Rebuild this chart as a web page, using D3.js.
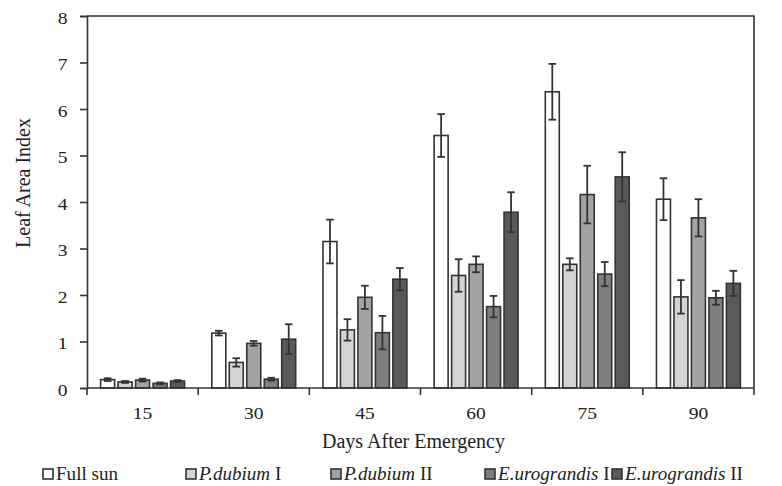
<!DOCTYPE html>
<html>
<head>
<meta charset="utf-8">
<script src="https://cdn.jsdelivr.net/npm/d3@7/dist/d3.min.js"></script>
<style>
  html, body { margin: 0; padding: 0; background: #fff; }
  svg { display: block; }
  text { font-family: "Liberation Serif", "Times New Roman", serif; fill: #222; }
</style>
</head>
<body>
<svg id="chart" width="782" height="486"></svg>
<script>
// Leaf area index by days after emergency, five light treatments
const days = ["15", "30", "45", "60", "75", "90"];
const series = ["Full sun", "P.dubium I", "P.dubium II", "E.urograndis I", "E.urograndis II"];
const fullSun      = [0.18, 1.18, 3.15, 5.43, 6.37, 4.06];
const pDubiumI     = [0.13, 0.55, 1.25, 2.42, 2.66, 1.96];
const pDubiumII    = [0.17, 0.96, 1.95, 2.66, 4.16, 3.66];
const eUrograndisI = [0.10, 0.19, 1.19, 1.75, 2.45, 1.94];
const eUrograndisII= [0.15, 1.05, 2.34, 3.78, 4.54, 2.25];
const fullSunErr      = [0.03, 0.05, 0.47, 0.46, 0.60, 0.45];
const pDubiumIErr     = [0.02, 0.09, 0.23, 0.35, 0.13, 0.36];
const pDubiumIIErr    = [0.03, 0.05, 0.25, 0.17, 0.62, 0.40];
const eUrograndisIErr = [0.02, 0.03, 0.36, 0.23, 0.26, 0.15];
const eUrograndisIIErr= [0.02, 0.32, 0.24, 0.43, 0.53, 0.27];
const yTicks = [0, 1, 2, 3, 4, 5, 6, 7, 8];

const values = [fullSun, pDubiumI, pDubiumII, eUrograndisI, eUrograndisII];
const errors = [fullSunErr, pDubiumIErr, pDubiumIIErr, eUrograndisIErr, eUrograndisIIErr];
const fills = ["#ffffff", "#d4d4d4", "#a3a3a3", "#7e7e7e", "#5a5a5a"];
const ink = "#333333";

const svg = d3.select("#chart");
const plotLeft = 87, plotRight = 754, plotTop = 16, plotBottom = 388;

const x0 = d3.scaleBand().domain(days).range([plotLeft, plotRight]).paddingInner(0).paddingOuter(0);
const x1 = d3.scaleBand().domain(series).range([0, x0.bandwidth()]).paddingInner(0.2).paddingOuter(0.78);
const y = d3.scaleLinear().domain([0, 8]).range([plotBottom, plotTop]);

const rows = [];
days.forEach((d, i) => series.forEach((s, j) => rows.push({
  day: d, s, j, v: values[j][i], e: errors[j][i]
})));

// Bars
svg.append("g").selectAll("rect").data(rows).join("rect")
  .attr("x", d => x0(d.day) + x1(d.s))
  .attr("y", d => y(d.v))
  .attr("width", x1.bandwidth())
  .attr("height", d => y(0) - y(d.v))
  .attr("fill", d => fills[d.j])
  .attr("stroke", ink)
  .attr("stroke-width", 1.6);

// Error bars
const eb = svg.append("g").attr("stroke", ink).attr("stroke-width", 1.8).attr("fill", "none");
rows.forEach(d => {
  const cx = x0(d.day) + x1(d.s) + x1.bandwidth() / 2;
  const y1 = y(d.v + d.e), y2 = y(d.v - d.e);
  eb.append("line").attr("x1", cx).attr("x2", cx).attr("y1", y1).attr("y2", y2);
  eb.append("line").attr("x1", cx - 3.8).attr("x2", cx + 3.8).attr("y1", y1).attr("y2", y1);
  eb.append("line").attr("x1", cx - 3.8).attr("x2", cx + 3.8).attr("y1", y2).attr("y2", y2);
});

// Frame (top and right edges)
svg.append("path")
  .attr("d", `M${plotLeft},${plotTop}H${plotRight}V${plotBottom}`)
  .attr("fill", "none").attr("stroke", ink).attr("stroke-width", 1.6);

// Y axis
const yAxis = svg.append("g").attr("transform", `translate(${plotLeft},0)`)
  .call(d3.axisLeft(y).tickValues(yTicks).tickFormat(d3.format("d")).tickSize(7).tickPadding(10));
yAxis.select(".domain").attr("stroke", ink).attr("stroke-width", 1.6);
yAxis.selectAll(".tick line").attr("stroke", ink).attr("stroke-width", 1.6);
yAxis.selectAll(".tick text")
  .attr("font-family", "Liberation Serif, serif").attr("font-size", 17).attr("fill", "#222")
  .attr("dy", "0.42em")
  .attr("transform", "scale(1.15,1)");

// X axis: ticks at group boundaries, labels at group centres
const xAxis = svg.append("g").attr("transform", `translate(0,${plotBottom})`);
xAxis.append("line").attr("x1", plotLeft).attr("x2", plotRight).attr("stroke", ink).attr("stroke-width", 1.6);
const bounds = days.map(d => x0(d)).concat([plotRight]);
xAxis.selectAll("line.tk").data(bounds).join("line").attr("class", "tk")
  .attr("x1", d => d).attr("x2", d => d).attr("y1", 0).attr("y2", 7)
  .attr("stroke", ink).attr("stroke-width", 1.6);
xAxis.selectAll("text").data(days).join("text")
  .attr("transform", d => `translate(${x0(d) + x0.bandwidth() / 2},31) scale(1.15,1)`)
  .attr("text-anchor", "middle").attr("font-size", 17)
  .text(d => d);

// Axis titles
svg.append("text")
  .attr("x", (plotLeft + plotRight) / 2 - 7).attr("y", 448)
  .attr("text-anchor", "middle").attr("font-size", 20)
  .text("Days After Emergency");
svg.append("text")
  .attr("transform", "translate(30,183) rotate(-90)")
  .attr("text-anchor", "middle").attr("font-size", 20)
  .text("Leaf Area Index");

// Legend
const legendX = [43, 186, 331, 485, 612];
const legendParts = [
  [["Full sun", false]],
  [["P.dubium", true], [" I", false]],
  [["P.dubium", true], [" II", false]],
  [["E.urograndis", true], [" I", false]],
  [["E.urograndis", true], [" II", false]]
];
const lg = svg.append("g");
series.forEach((s, j) => {
  const gx = legendX[j];
  lg.append("rect").attr("x", gx).attr("y", 469).attr("width", 10).attr("height", 10)
    .attr("fill", fills[j]).attr("stroke", ink).attr("stroke-width", 1.6);
  const t = lg.append("text")
    .attr("transform", `translate(${gx + 13},480) scale(1.06,1)`)
    .attr("font-size", 18);
  legendParts[j].forEach(([txt, it]) => {
    t.append("tspan").attr("font-style", it ? "italic" : "normal").text(txt);
  });
});
</script>
</body>
</html>
